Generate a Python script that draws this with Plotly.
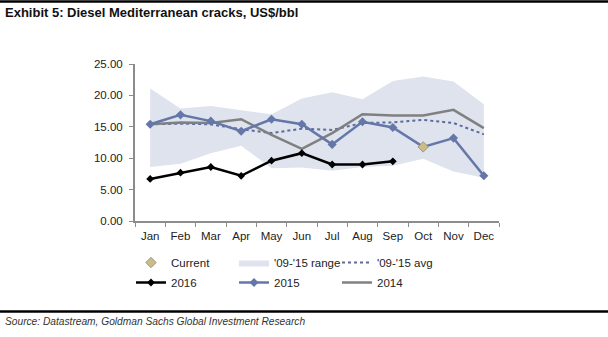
import plotly.graph_objects as go

months = ["Jan", "Feb", "Mar", "Apr", "May", "Jun", "Jul", "Aug", "Sep", "Oct", "Nov", "Dec"]

range_low = [8.6, 9.1, 10.8, 12.0, 8.4, 8.5, 8.0, 8.6, 8.8, 9.9, 7.9, 6.9]
range_high = [21.1, 17.9, 18.3, 17.6, 17.0, 19.5, 20.5, 19.4, 22.3, 23.0, 22.2, 18.6]
avg_0915 = [15.4, 15.5, 15.4, 14.6, 14.0, 14.7, 14.5, 15.6, 15.7, 16.1, 15.6, 13.8]
y2016 = [6.7, 7.7, 8.6, 7.2, 9.6, 10.8, 9.0, 9.0, 9.5]
y2015 = [15.4, 16.9, 15.9, 14.3, 16.2, 15.4, 12.2, 15.8, 14.9, 11.8, 13.2, 7.2]
y2014 = [15.4, 15.7, 15.6, 16.2, 13.7, 11.5, 14.0, 17.0, 16.8, 16.8, 17.7, 14.8]
current_month = ["Oct"]
current_value = [11.8]

y_ticks = [0, 5, 10, 15, 20, 25]

FONT = "Liberation Sans, Arial, sans-serif"
BLUE = "#6577a8"
GRAY = "#808080"
BAND = "#dfe3ee"

# Page and plot-area geometry in pixels
W, H = 608, 337
pl, pr, pt, pb = 135, 109, 64, 116
pw, ph = W - pl - pr, H - pt - pb


def px_x(x):
    return (x - pl) / pw


def px_y(y):
    return (H - pb - y) / ph


fig = go.Figure()

fig.add_trace(go.Scatter(
    x=months, y=range_low, mode="lines", line=dict(width=0, color=BAND),
    showlegend=False, hoverinfo="skip"))
fig.add_trace(go.Scatter(
    x=months, y=range_high, mode="lines", line=dict(width=0, color=BAND),
    fill="tonexty", fillcolor=BAND, name="'09-'15 range",
    legend="legend", legendrank=2))
fig.add_trace(go.Scatter(
    x=months, y=avg_0915, mode="lines", name="'09-'15 avg",
    line=dict(color="#5b6b9b", width=2, dash="dot"),
    legend="legend", legendrank=3))
fig.add_trace(go.Scatter(
    x=months, y=y2014, mode="lines", name="2014",
    line=dict(color=GRAY, width=2.5), legend="legend2", legendrank=3))
fig.add_trace(go.Scatter(
    x=months, y=y2015, mode="lines+markers", name="2015",
    line=dict(color=BLUE, width=2.5),
    marker=dict(symbol="diamond", size=7, color=BLUE),
    legend="legend2", legendrank=2))
fig.add_trace(go.Scatter(
    x=months[:len(y2016)], y=y2016, mode="lines+markers", name="2016",
    line=dict(color="black", width=2.5),
    marker=dict(symbol="diamond", size=6, color="black"),
    legend="legend2", legendrank=1))
fig.add_trace(go.Scatter(
    x=current_month, y=current_value, mode="markers", name="Current",
    marker=dict(symbol="diamond", size=8, color="#cbbd84",
                line=dict(color="#9a9a8a", width=1)),
    legend="legend", legendrank=1))

legend_style = dict(
    orientation="h", xanchor="left", yanchor="top",
    font=dict(family=FONT, size=11.5, color="#222"),
    entrywidth=58, entrywidthmode="pixels",
    traceorder="normal", itemclick=False, itemdoubleclick=False,
    bgcolor="rgba(0,0,0,0)",
)

fig.update_layout(
    width=W, height=H,
    margin=dict(l=pl, r=pr, t=pt, b=pb),
    paper_bgcolor="white", plot_bgcolor="white",
    font=dict(family=FONT, size=11, color="#222"),
    showlegend=True,
    legend=dict(legend_style, x=px_x(131), y=px_y(248)),
    legend2=dict(legend_style, x=px_x(131), y=px_y(268)),
    xaxis=dict(
        categoryorder="array", categoryarray=months,
        range=[-0.5, 11.5], showgrid=False, zeroline=False,
        showline=True, linecolor="#8c8c8c", linewidth=2,
        ticks="outside", tickson="boundaries", ticklen=4,
        tickcolor="#8c8c8c", tickwidth=1, ticklabelstandoff=3,
        tickangle=0,
        tickfont=dict(family=FONT, size=11.5, color="#222"),
    ),
    yaxis=dict(
        range=[0, 25], tickvals=y_ticks,
        ticktext=[f"{v:.2f}" for v in y_ticks],
        showgrid=False, zeroline=False,
        showline=True, linecolor="#8c8c8c", linewidth=2,
        ticks="outside", ticklen=4, tickcolor="#8c8c8c", tickwidth=1,
        ticklabelstandoff=4,
        tickfont=dict(family=FONT, size=11.5, color="#222"),
    ),
    shapes=[
        dict(type="line", xref="paper", yref="paper",
             x0=px_x(0), x1=px_x(W), y0=px_y(1.5), y1=px_y(1.5),
             line=dict(color="black", width=2.5)),
        dict(type="line", xref="paper", yref="paper",
             x0=px_x(0), x1=px_x(W), y0=px_y(311.5), y1=px_y(311.5),
             line=dict(color="black", width=2.5)),
    ],
    annotations=[
        dict(text="<b>Exhibit 5: Diesel Mediterranean cracks, US$/bbl</b>",
             xref="paper", yref="paper", x=px_x(3), y=px_y(12),
             showarrow=False, xanchor="left", yanchor="middle",
             font=dict(family=FONT, size=13, color="#111")),
        dict(text="<i>Source: Datastream, Goldman Sachs Global Investment Research</i>",
             xref="paper", yref="paper", x=px_x(3), y=px_y(321),
             showarrow=False, xanchor="left", yanchor="middle",
             font=dict(family=FONT, size=10.2, color="#333")),
    ],
)

fig.write_html("out.html")
